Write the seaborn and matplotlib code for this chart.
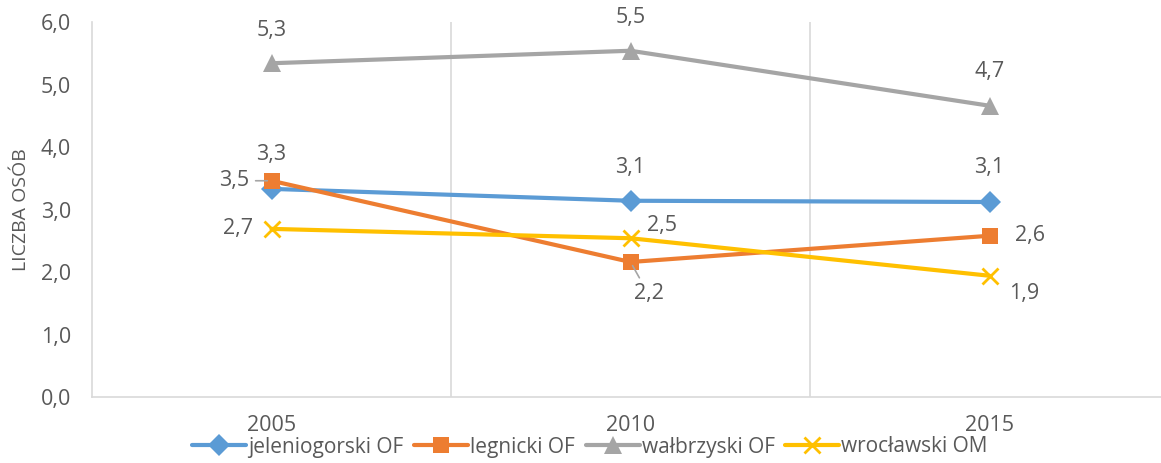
import numpy as np
import matplotlib
matplotlib.use("Agg")
import matplotlib.pyplot as plt
from matplotlib.lines import Line2D
import pandas as pd
import seaborn as sns

years = ["2005", "2010", "2015"]
series_names = ["jeleniogorski OF", "legnicki OF", "wałbrzyski OF", "wrocławski OM"]
jeleniogorski = [3.33, 3.14, 3.12]
legnicki = [3.46, 2.16, 2.58]
walbrzyski = [5.34, 5.54, 4.66]
wroclawski = [2.69, 2.54, 1.94]

colors = ["#5B9BD5", "#ED7D31", "#A5A5A5", "#FFC000"]
markers = ["D", "s", "^", "x"]
msizes = [11, 12, 13, 12]
text_col = "#595959"

df = pd.DataFrame({
    "rok": years * 4,
    "seria": np.repeat(series_names, 3),
    "wartosc": jeleniogorski + legnicki + walbrzyski + wroclawski,
})

sns.set_theme(style="white")
plt.rcParams["font.family"] = ["Open Sans", "DejaVu Sans"]

fig = plt.figure(figsize=(11.61, 4.63), dpi=100)
ax = fig.add_axes([92 / 1161, 1 - 397 / 463, 1077 / 1161, 375 / 463])

# one call per series (filled and line-art markers can't be mixed in one call)
for name, c, m, ms in zip(series_names, colors, markers, msizes):
    sub = df[df["seria"] == name]
    sns.lineplot(
        data=sub, x="rok", y="wartosc", color=c, marker=m, markersize=ms,
        markeredgewidth=2 if m == "x" else 0, markeredgecolor=c,
        linewidth=3, ax=ax, legend=False,
    )

# data labels: offsets in pixels per series/point
offsets = {
    "jeleniogorski OF": [(0, 34), (0, 33), (0, 34)],
    "legnicki OF": [(-37, 0), (18, -32), (40, 0)],
    "wałbrzyski OF": [(0, 33), (0, 33), (0, 34)],
    "wrocławski OM": [(-33, 0), (32, 13), (35, -18)],
}
leaders = {("legnicki OF", 0), ("legnicki OF", 1)}
for name, vals in zip(series_names, [jeleniogorski, legnicki, walbrzyski, wroclawski]):
    for i, v in enumerate(vals):
        lbl = f"{v:.1f}".replace(".", ",")
        kw = {}
        if (name, i) in leaders:
            kw["arrowprops"] = dict(arrowstyle="-", color="#A5A5A5", lw=1.2,
                                    shrinkA=2, shrinkB=3)
        ax.annotate(lbl, (i, v), xytext=offsets[name][i], textcoords="offset pixels",
                    ha="center", va="center", fontsize=15.5, color=text_col, **kw)

ax.set_xlim(-0.5, 2.5)
ax.set_ylim(0, 6)
yt = np.arange(0, 6.01, 1)
ax.set_yticks(yt)
ax.set_yticklabels([f"{t:.1f}".replace(".", ",") for t in yt])
ax.set_xticks(range(3))
ax.set_xticklabels(years)
ax.set_xticks([0.5, 1.5], minor=True)
ax.grid(False)
ax.grid(True, which="minor", axis="x", color="#D9D9D9", linewidth=1.2)
ax.tick_params(axis="both", which="both", length=0, labelsize=15.5, colors=text_col)
ax.tick_params(axis="y", pad=15)
ax.tick_params(axis="x", pad=13)
ax.set_xlabel("")
ax.set_ylabel("LICZBA OSÓB", fontsize=14, color=text_col, labelpad=8)

for s in ["top", "right"]:
    ax.spines[s].set_visible(False)
for s in ["left", "bottom"]:
    ax.spines[s].set_color("#D9D9D9")
    ax.spines[s].set_linewidth(1.2)

handles = []
for c, m, ms in zip(colors, markers, msizes):
    handles.append(Line2D([], [], color=c, lw=3, marker=m, markersize=ms,
                          markeredgewidth=2 if m == "x" else 0, markeredgecolor=c))
fig.legend(handles, series_names, loc="center", bbox_to_anchor=(590 / 1161, 1 - 447 / 463),
           ncol=4, frameon=False, fontsize=15, handlelength=2.6, columnspacing=0.5,
           handletextpad=0.1, labelcolor=text_col)

fig.savefig("out.png", dpi=100)
